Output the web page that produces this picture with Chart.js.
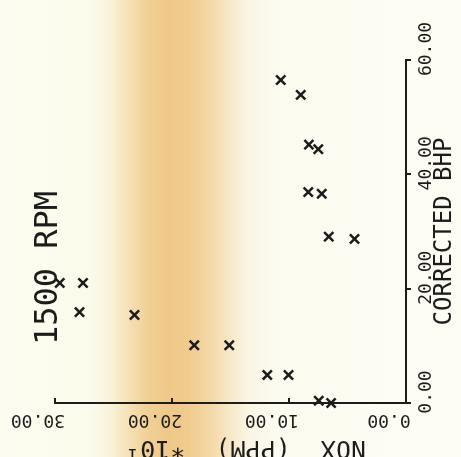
<!DOCTYPE html>
<html>
<head>
<meta charset="utf-8">
<script src="https://cdn.jsdelivr.net/npm/chart.js@4"></script>
<style>
html, body { margin: 0; padding: 0; }
body {
  width: 461px; height: 457px; overflow: hidden; position: relative;
  background: linear-gradient(to right,
    #fcfcf1 0px, #fbfbeb 92px, #f9f1d8 112px, #f5e0b2 130px, #f1d094 148px,
    #efc889 168px, #f0cb8e 188px, #f3d7a4 208px, #f7e7c6 228px, #faf5e4 248px,
    #fcfbf0 275px, #fdfdf4 461px);
}
#wrap {
  position: absolute; left: 0; top: 0; width: 457px; height: 461px;
  transform-origin: 0 0; transform: translateY(457px) rotate(-90deg);
}
</style>
</head>
<body>
<div id="wrap"><canvas id="c" width="457" height="461"></canvas></div>
<script>
// Data (corrected BHP vs NOX in PPM*10)
const bhpValues = [56.5, 53.9, 45.2, 44.4, 36.9, 36.6, 29.1, 28.7, 21.0, 21.0, 15.9, 15.4, 10.1, 10.1, 4.9, 4.9, 0.4, 0.0];
const noxValues = [10.7, 9.0, 8.3, 7.5, 8.35, 7.2, 6.6, 4.4, 29.6, 27.6, 27.9, 23.2, 18.1, 15.1, 11.85, 10.05, 7.45, 6.4];
const bhpTicks = [0, 20, 40, 60];
const noxTicks = [0, 10, 20, 30];
const runLabel = '1500 RPM';
const xTitle = 'CORRECTED BHP';
const yTitle = 'NOX  (PPM)  *10\u00B9  ';

const ink = '#1c1c1c';
const mono = '"DejaVu Sans Mono", "Liberation Mono", monospace';

const points = bhpValues.map((b, i) => ({ x: b, y: noxValues[i] }));

const extras = {
  id: 'extras',
  afterDraw(chart) {
    const { ctx, chartArea, scales } = chart;
    ctx.save();
    ctx.strokeStyle = ink;
    ctx.lineWidth = 2;
    noxTicks.forEach(v => {
      const py = scales.y.getPixelForValue(v);
      ctx.beginPath();
      ctx.moveTo(chartArea.left, py);
      ctx.lineTo(chartArea.left + 5, py);
      ctx.stroke();
    });
    ctx.fillStyle = ink;
    ctx.font = '32px ' + mono;
    ctx.textAlign = 'left';
    ctx.textBaseline = 'alphabetic';
    ctx.fillText(runLabel, chartArea.left + 58, chartArea.top + 2);
    ctx.restore();
  }
};

new Chart(document.getElementById('c'), {
  type: 'scatter',
  data: {
    datasets: [{
      data: points,
      pointStyle: 'crossRot',
      pointRadius: 6.5,
      pointHoverRadius: 6.5,
      borderWidth: 2.5,
      borderColor: ink,
      backgroundColor: ink,
      clip: false
    }]
  },
  plugins: [extras],
  options: {
    responsive: false,
    animation: false,
    devicePixelRatio: 1,
    layout: { padding: { top: 55, right: 60, left: 0, bottom: 0 } },
    plugins: { legend: { display: false }, tooltip: { enabled: false } },
    scales: {
      x: {
        type: 'linear', position: 'bottom', min: 0, max: 60,
        afterBuildTicks: s => { s.ticks = bhpTicks.map(v => ({ value: v })); },
        afterFit: s => { s.height = 55; },
        grid: { display: true, drawOnChartArea: false, drawTicks: true, tickLength: 5, color: ink, lineWidth: 2 },
        border: { display: true, color: ink, width: 2 },
        ticks: {
          color: ink, font: { family: mono, size: 18 }, padding: 5,
          minRotation: 0, maxRotation: 0, autoSkip: false, labelOffset: 11,
          callback: v => Number(v).toFixed(2)
        },
        title: { display: true, text: xTitle, color: ink, font: { family: mono, size: 24 }, padding: { top: 0, bottom: 2 } }
      },
      y: {
        type: 'linear', position: 'left', min: 0, max: 30,
        afterBuildTicks: s => { s.ticks = noxTicks.map(v => ({ value: v })); },
        afterFit: s => { s.width = 54; },
        grid: { display: false, drawTicks: false },
        border: { display: true, color: ink, width: 2 },
        ticks: {
          color: ink, font: { family: mono, size: 18 }, padding: -10,
          minRotation: 90, maxRotation: 90, crossAlign: 'center', autoSkip: false, labelOffset: -17,
          callback: v => Number(v).toFixed(2)
        },
        title: { display: true, text: yTitle, color: ink, font: { family: mono, size: 25, lineHeight: 1 }, padding: { top: -3, bottom: 0 } }
      }
    }
  }
});
</script>
</body>
</html>
